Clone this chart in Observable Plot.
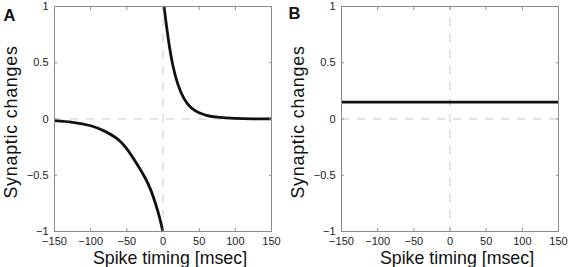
<!DOCTYPE html>
<html>
<head>
<meta charset="utf-8">
<script src="https://cdn.jsdelivr.net/npm/d3@7"></script>
<script src="https://cdn.jsdelivr.net/npm/@observablehq/plot@0.6"></script>
<style>
  html, body { margin: 0; padding: 0; background: #fff; }
  #wrap { display: flex; width: 569px; height: 267px; }
  .ylab text { letter-spacing: 0.8px; }
</style>
</head>
<body>
<div id="wrap"></div>
<script>
// Panel A: STDP window
const tPre  = [-150, -125, -100, -80, -63, -50, -36, -25, -17, -10, -5, -0.5];
const wPre  = [-0.015, -0.03, -0.06, -0.11, -0.177, -0.265, -0.40, -0.52, -0.63, -0.76, -0.87, -0.99];
const tPost = [1.5, 3, 5, 8.5, 13.5, 20.5, 28, 34, 40, 50, 60, 75, 100, 125, 150];
const wPost = [1.0, 0.92, 0.82, 0.66, 0.48, 0.31, 0.195, 0.135, 0.095, 0.055, 0.033, 0.016, 0.005, 0.002, 0.001];
// Panel B: constant change
const tFlat = [-150, 150];
const wFlat = [0.15, 0.15];

const xTicks = [-150, -100, -50, 0, 50, 100, 150];
const xTickLabels = ["\u2212150", "\u2212100", "\u221250", "0", "50", "100", "150"];
const yTicks = [-1, -0.5, 0, 0.5, 1];
const yTickLabels = ["\u22121", "\u22120.5", "0", "0.5", "1"];
const xLabel = "Spike timing [msec]";
const yLabel = "Synaptic changes";
const panelLetters = ["A", "B"];

const FONT = "'Liberation Sans', Arial, Helvetica, sans-serif";
const frameColor = "#8c8c8c";

function pts(ts, ws) { return ts.map((t, i) => ({t, w: ws[i]})); }

function panel({letter, width, marginLeft, marginRight, letterDx, letterDy, lines}) {
  return Plot.plot({
    width, height: 267,
    marginLeft, marginRight, marginTop: 6, marginBottom: 36,
    style: {fontFamily: FONT, background: "#fff", color: "#111", overflow: "visible"},
    x: {domain: [-150, 150]},
    y: {domain: [-1, 1]},
    marks: [
      Plot.ruleY([0], {stroke: "#c8c8c8", strokeDasharray: "8,8"}),
      Plot.ruleX([0], {stroke: "#c8c8c8", strokeDasharray: "8,8", strokeDashoffset: 4}),
      ...lines.map(d => Plot.line(d, {x: "t", y: "w", stroke: "#111", strokeWidth: 2.8, curve: "natural", clip: true})),
      Plot.frame({stroke: frameColor}),
      Plot.axisX(xTicks, {anchor: "bottom", tickSize: -3, tickPadding: 9, fontSize: 11, stroke: frameColor, fill: "#222",
        tickFormat: d => xTickLabels[xTicks.indexOf(d)], label: null}),
      Plot.axisX(xTicks, {anchor: "top", tickSize: -3, stroke: frameColor, tickFormat: () => "", label: null}),
      Plot.axisY(yTicks, {anchor: "left", tickSize: -3, tickPadding: 9, fontSize: 11, stroke: frameColor, fill: "#222",
        tickFormat: d => yTickLabels[yTicks.indexOf(d)], label: null}),
      Plot.axisY(yTicks, {anchor: "right", tickSize: -3, stroke: frameColor, tickFormat: () => "", label: null}),
      Plot.text([xLabel], {text: d => d, frameAnchor: "bottom", dx: 7, dy: 32.5, textAnchor: "middle", lineAnchor: "bottom", fontSize: 17.8, fill: "#111"}),
      Plot.text([yLabel], {text: d => d, frameAnchor: "left", rotate: -90, dx: -38, dy: 3, textAnchor: "middle", lineAnchor: "bottom", fontSize: 17.8, fill: "#111", className: "ylab"}),
      Plot.text([letter], {text: d => d, frameAnchor: "top-left", dx: letterDx, dy: letterDy, textAnchor: "start", lineAnchor: "bottom", fontSize: 16.5, fontWeight: "bold", fill: "#111"})
    ]
  });
}

const wrap = document.getElementById("wrap");
wrap.append(panel({letter: panelLetters[0], width: 285, marginLeft: 54, marginRight: 14, letterDx: -51, letterDy: 14,
  lines: [pts(tPre, wPre), pts(tPost, wPost)]}));
wrap.append(panel({letter: panelLetters[1], width: 284, marginLeft: 56, marginRight: 11, letterDx: -53, letterDy: 12.5,
  lines: [pts(tFlat, wFlat)]}));
</script>
</body>
</html>
